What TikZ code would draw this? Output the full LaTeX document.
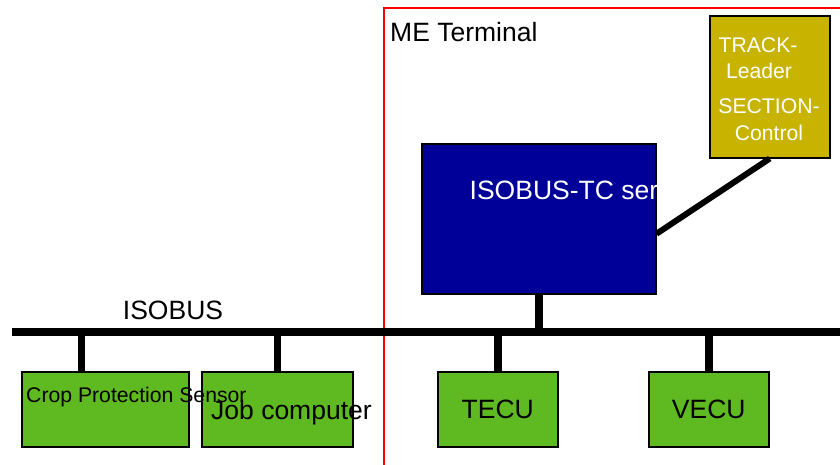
\documentclass[tikz,border=0pt]{standalone}
\usepackage{fontspec}
\setmainfont{Liberation Sans}
\definecolor{ylw}{HTML}{C8B400}
\definecolor{tcblue}{HTML}{000099}
\definecolor{grn}{HTML}{5FB920}
\begin{document}
\begin{tikzpicture}[x=1pt,y=-1pt,
  box/.style={draw=black,line width=1.5pt,inner sep=0,anchor=north west},
  ecu/.style={box,fill=grn,minimum height=75pt,font=\fontsize{26.5}{28}\selectfont},
  big/.style={inner sep=0,font=\fontsize{26.5}{28}\selectfont},
  small/.style={inner sep=0,font=\fontsize{21.2}{23}\selectfont},
  wire/.style={line width=7.5pt,black}]
\useasboundingbox (0,0) rectangle (840,464);
\clip (0,0) rectangle (840,464);
% ME terminal frame
\draw[red,line width=2pt] (384,8) rectangle (850,480);
\node[big,anchor=base west] (me) at (390,41) {ME Terminal};
% TRACK-Leader / SECTION-Control box
\node[box,fill=ylw,minimum width=120pt,minimum height=142pt] (tl) at (709,15) {};
\node[small,white,anchor=base] (t1) at (758,52) {TRACK-};
\node[small,white,anchor=base] (t2) at (759,78) {Leader};
\node[small,white,anchor=base] (t3) at (769,113) {SECTION-};
\node[small,white,anchor=base] (t4) at (769,140) {Control};
% ISOBUS-TC server
\node[box,fill=tcblue,minimum width=234pt,minimum height=150pt] (tc) at (421,143) {};
\begin{scope}
  \clip (tc.south west) rectangle (tc.north east);
  \node[big,white,anchor=base west] (tct) at (469.5,199) {ISOBUS-TC server};
\end{scope}
\draw[line width=6pt] ([yshift=-15pt]tc.east) -- (tl.south);
% bus
\coordinate (busL) at (12,332);
\coordinate (busR) at (845,332);
\draw[wire] (busL) -- (busR);
\node[big,anchor=base] (isobus) at (173,319) {ISOBUS};
% ECUs
\node[ecu,minimum width=167pt] (crop) at (21,371) {};
\node[ecu,minimum width=151pt] (job) at (201,371) {};
\node[ecu,minimum width=120pt] (tecu) at (437,371) {TECU};
\node[ecu,minimum width=120pt] (vecu) at (648,371) {VECU};
\node[small,anchor=base west] (cropt) at (26,402) {Crop Protection Sensor};
\node[big,anchor=base west] (jobt) at (211,419) {Job computer};
% stems
\draw[wire] ([xshift=-24pt]crop.north) -- ([xshift=-24pt]crop.north |- busL);
\draw[wire] (job.north) -- (job.north |- busL);
\draw[wire] (tecu.north) -- (tecu.north |- busL);
\draw[wire] (vecu.north) -- (vecu.north |- busL);
\draw[wire] (tc.south) -- (tc.south |- busL);
\end{tikzpicture}
\end{document}
